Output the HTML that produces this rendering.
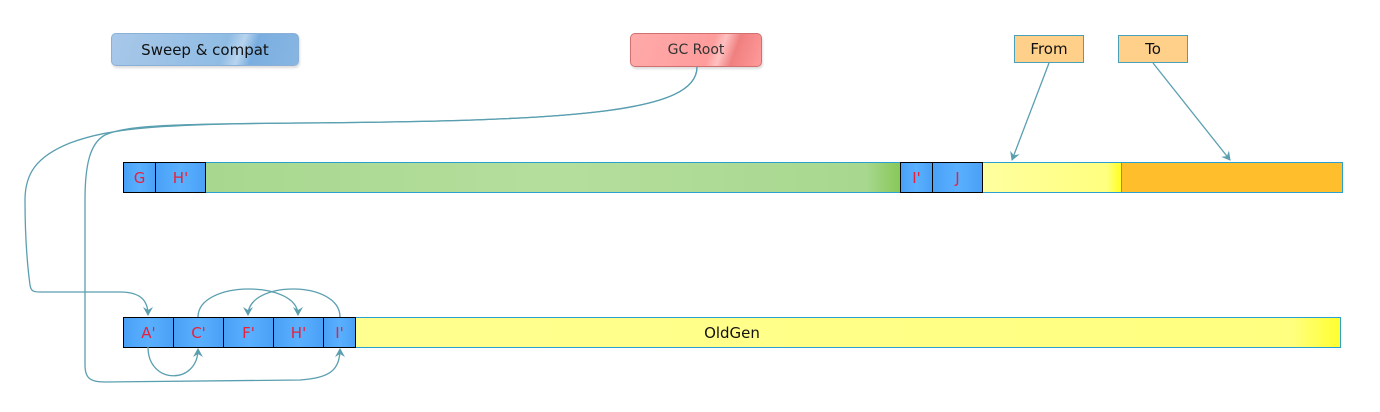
<!DOCTYPE html>
<html><head><style>
body{margin:0;width:1380px;height:412px;background:#fff;font-family:"DejaVu Sans","Liberation Sans",sans-serif;position:relative;overflow:hidden}
.b{position:absolute;box-sizing:border-box;display:flex;align-items:center;justify-content:center;font-size:15px}
.c{background:linear-gradient(90deg,#4aa0f5,#5ab0ff,#4aa0f5);border:1px solid #000;color:#e8203a;height:31px}
</style></head><body>
<div class="b" style="left:111px;top:33px;width:188px;height:33px;border-radius:5px;background:linear-gradient(110deg,#a8c8e8 0%,#90bce4 60%,#b8d4ee 68%,#7aaee0 75%,#88b6e2 100%);border:1px solid #8ab0d8;color:#111;box-shadow:1px 2px 2px #ddd">Sweep &amp; compat</div>
<div class="b" style="left:630px;top:33px;width:132px;height:34px;border-radius:5px;background:linear-gradient(110deg,#ffaaaa 0%,#ff9c9c 60%,#ffc0c0 68%,#f08080 78%,#ff9a9a 100%);border:1px solid #d07070;color:#333;font-size:14px;box-shadow:1px 2px 2px #ddd">GC Root</div>
<div class="b" style="left:1014px;top:35px;width:70px;height:28px;background:#ffd08a;border:1px solid #4aa0b8;color:#111">From</div>
<div class="b" style="left:1118px;top:35px;width:70px;height:28px;background:#ffd08a;border:1px solid #4aa0b8;color:#111">To</div>

<div style="position:absolute;left:123px;top:162px;width:1220px;height:31px;border:1px solid #2aa0d0;box-sizing:border-box"></div>
<div class="b" style="left:205px;top:163px;width:695px;height:29px;background:linear-gradient(90deg,#a8d890,#b4de9c 50%,#a8d890 95%,#88c858)"></div>
<div class="b" style="left:982px;top:163px;width:139px;height:29px;background:linear-gradient(90deg,#ffffa0,#ffff80 90%,#ffff20)"></div>
<div class="b" style="left:1121px;top:163px;width:221px;height:29px;background:#ffbe2c;border-left:1px solid #4aa0b8"></div>
<div class="b c" style="left:123px;top:162px;width:33px">G</div>
<div class="b c" style="left:155px;top:162px;width:51px">H'</div>
<div class="b c" style="left:900px;top:162px;width:33px">I'</div>
<div class="b c" style="left:932px;top:162px;width:51px">J</div>

<div style="position:absolute;left:123px;top:317px;width:1218px;height:31px;border:1px solid #2aa0d0;box-sizing:border-box"></div>
<div class="b" style="left:355px;top:318px;width:985px;height:29px;background:linear-gradient(90deg,#ffff90,#ffff80 95%,#ffff30)"></div>
<div class="b" style="left:123px;top:318px;width:1218px;height:29px;color:#111">OldGen</div>
<div class="b c" style="left:123px;top:317px;width:51px">A'</div>
<div class="b c" style="left:173px;top:317px;width:51px">C'</div>
<div class="b c" style="left:223px;top:317px;width:51px">F'</div>
<div class="b c" style="left:273px;top:317px;width:51px">H'</div>
<div class="b c" style="left:323px;top:317px;width:33px">I'</div>

<svg style="position:absolute;left:0;top:0" width="1380" height="412">
<defs><marker id="a" markerWidth="10" markerHeight="10" refX="8" refY="5" orient="auto" markerUnits="userSpaceOnUse"><path d="M0,0L9,5L0,10L3,5z" fill="#5a9fb0"/></marker></defs>
<g fill="none" stroke="#5a9fb0" stroke-width="1.3" marker-end="url(#a)">
<path d="M1049,63 L1012,160"/>
<path d="M1153,63 L1230,160"/>
<path d="M697,67 C697,112 580,121 300,123 C160,124 110,128 70,143 C35,157 25,175 25,200 C25,240 28,270 30,285 C31,291 33,292 40,292 L120,292 C140,292 148,300 148,315"/>
<path d="M697,67 C697,112 580,121 300,123 C160,124 125,126 105,135 C90,143 85,165 85,200 L85,365 C85,378 90,382 105,382 L300,380 C330,378 340,370 340,349"/>
<path d="M148,347 C148,385 198,385 198,349"/>
<path d="M198,317 C198,280 298,280 298,315"/>
<path d="M340,317 C340,280 248,280 248,315"/>
</g></svg>
</body></html>
